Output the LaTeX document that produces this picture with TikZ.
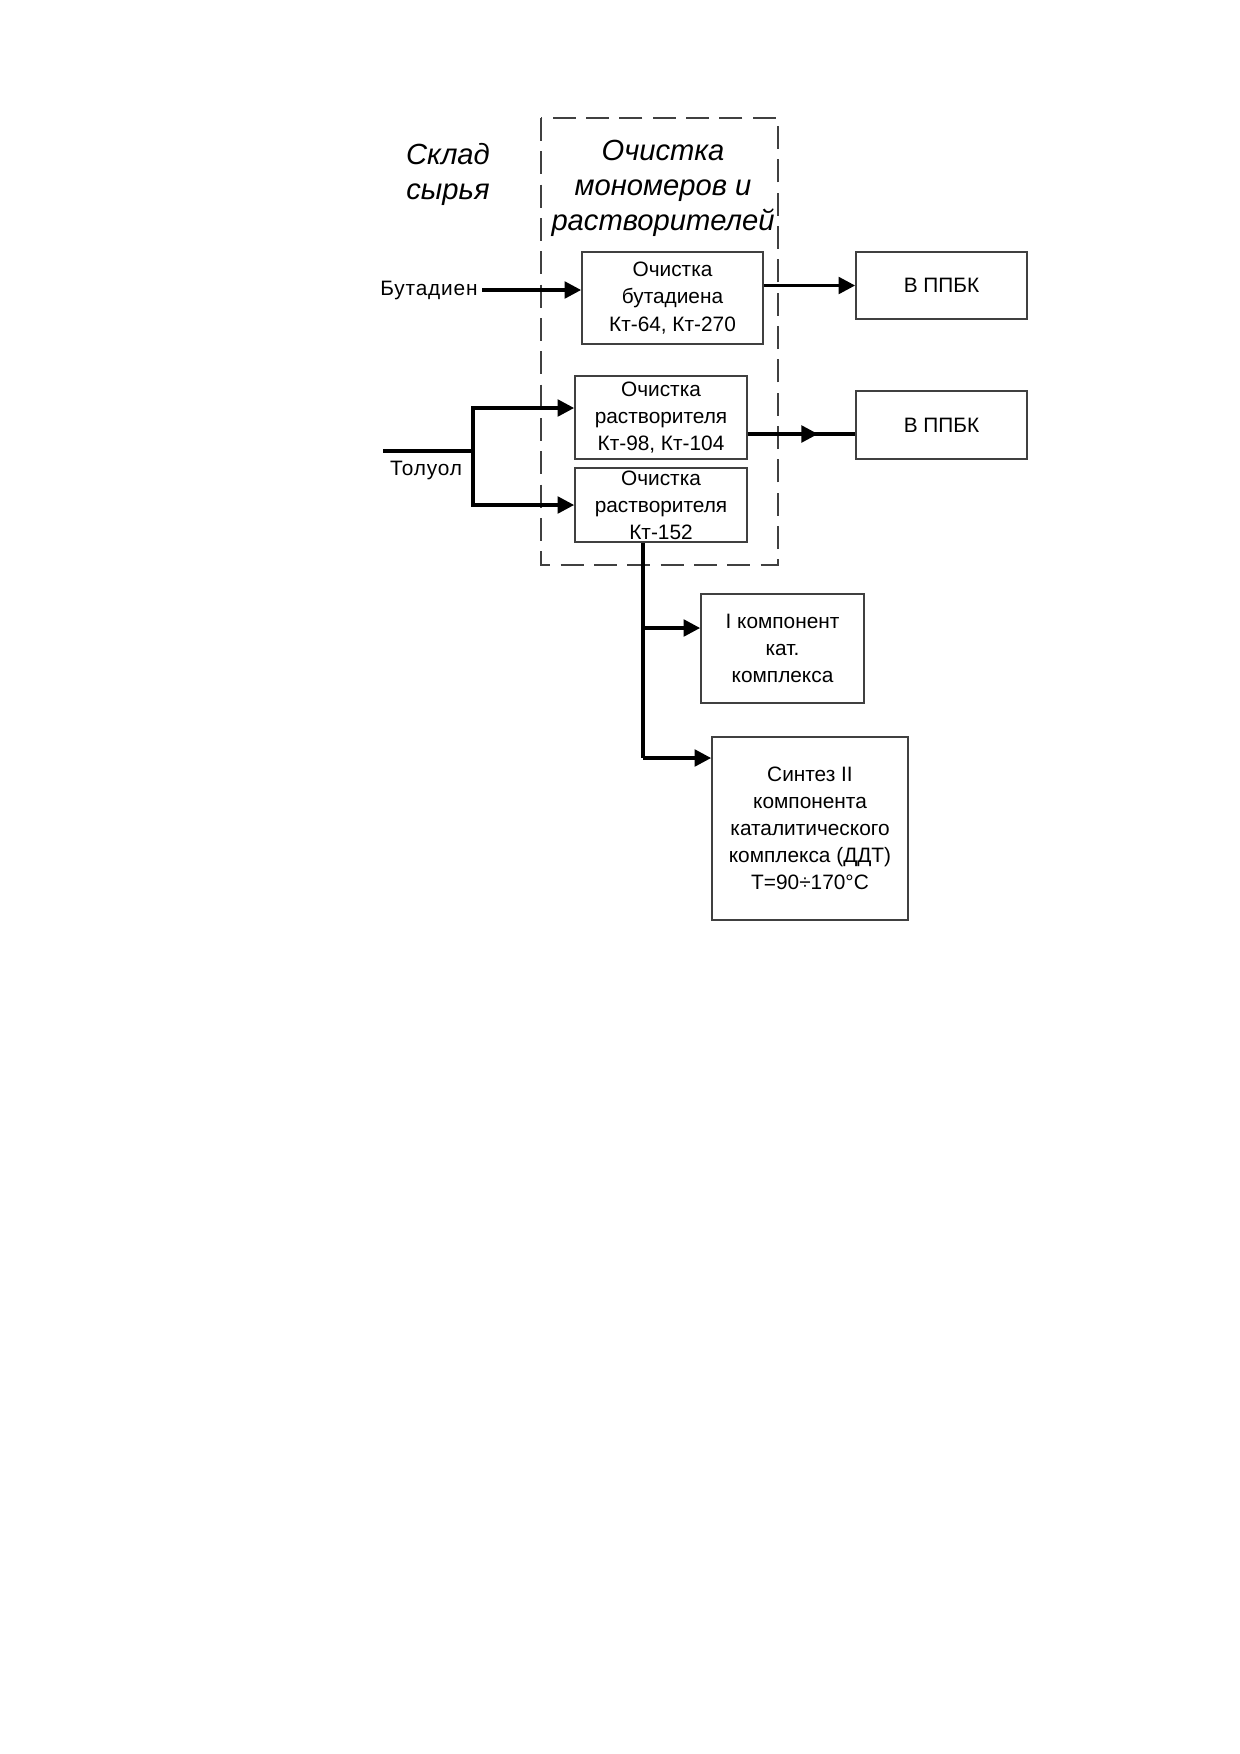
\documentclass[tikz,border=0pt]{standalone}
\usepackage{fontspec}
\setmainfont{Liberation Sans}
\usetikzlibrary{arrows.meta,calc}
\newdimen\pxu \pxu=0.48pt
\begin{document}
\begin{tikzpicture}[x=0.48pt,y=-0.48pt,
  box/.style={draw=black!75,line width=0.8pt,align=center,inner sep=0pt,
    font=\fontsize{10}{13}\selectfont},
  ttl/.style={align=center,inner sep=0pt,font=\itshape\fontsize{14}{16.8}\selectfont},
  lbl/.style={inner sep=0pt,font=\addfontfeature{LetterSpace=4}\fontsize{10}{12}\selectfont},
  flow/.style={line width=1.7pt,-{Triangle[length=8pt,width=8pt]}},
  pipe/.style={line width=1.7pt}]
\useasboundingbox (0,0) rectangle (1240,1754);
% dashed area
\draw[line width=0.9pt,dash pattern=on 11pt off 5pt,black!75] (541,118) rectangle (778,565);
\node[ttl] (t1) at (448,174) {Склад\\сырья};
\node[ttl] (t2) at (663,188) {Очистка\\мономеров и\\растворителей};
% boxes
\node[box,minimum width=181\pxu,minimum height=92\pxu] (b1) at (672.5,298) {Очистка\\бутадиена\\Кт-64, Кт-270};
\node[box,minimum width=172\pxu,minimum height=83\pxu] (b2) at (661,417.5) {Очистка\\растворителя\\Кт-98, Кт-104};
\node[box,minimum width=172\pxu,minimum height=74\pxu] (b3) at (661,505) {Очистка\\растворителя\\Кт-152};
\node[box,minimum width=171\pxu,minimum height=67\pxu] (p1) at (941.5,285.5) {В ППБК};
\node[box,minimum width=171\pxu,minimum height=68\pxu] (p2) at (941.5,425) {В ППБК};
\node[box,minimum width=163\pxu,minimum height=109\pxu] (c1) at (782.5,648.5) {I компонент\\кат.\\комплекса};
\node[box,minimum width=196\pxu,minimum height=183\pxu] (c2) at (810,828.5) {Синтез II\\компонента\\каталитического\\комплекса (ДДТ)\\Т=90÷170°C};
% labels
\node[lbl,anchor=east] (but) at (478,290) {Бутадиен};
\node[lbl] (tol) at (426,470) {Толуол};
% connectors
\draw[flow] ($(but.east)+(4,0)$) -- (but.east -| b1.west);
\draw[flow] (b1.east |- p1.west) -- (p1.west);
\coordinate (a2) at (747,434);
\draw[pipe] (a2 -| b2.east) -- (a2 -| p2.west);
\draw[flow] (a2 -| b2.east) -- (818,434);
\coordinate (tin) at (383,451);
\coordinate (tj) at (473,451);
\draw[pipe] (tin) -- (tj);
\draw[flow] (tj) -- (473,408) -- (b2.west |- 0,408);
\draw[flow] (tj) -- (473,505) -- (b3.west);
\coordinate (v0) at (643,542);
\draw[pipe] (v0 |- b3.south) -- (643,758);
\draw[flow] (643,628) -- (c1.west |- 0,628);
\draw[flow] (643,758) -- (c2.west |- 0,758);
\end{tikzpicture}
\end{document}
